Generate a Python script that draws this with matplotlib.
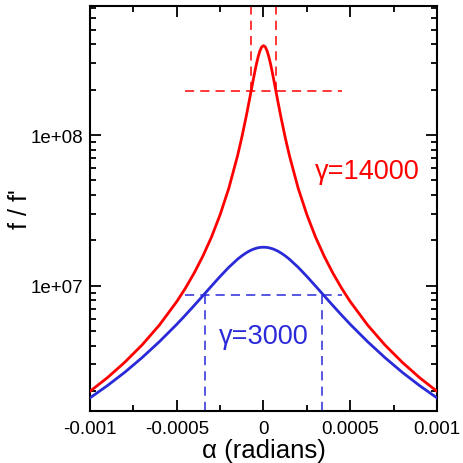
import matplotlib
matplotlib.use('Agg')
import math
import matplotlib.pyplot as plt
from matplotlib.ticker import LogLocator, NullFormatter, FixedLocator, FixedFormatter, MultipleLocator

plt.rcParams['font.family'] = ['Liberation Sans', 'DejaVu Sans']

# angle (radians), positive half; curves are symmetric about 0
alpha_half = [0, 1e-5, 2e-5, 3e-5, 4e-5, 5e-5, 6e-5, 8e-5, 1e-4, 1.25e-4, 1.5e-4,
              2e-4, 2.5e-4, 3e-4, 3.5e-4, 4e-4, 4.5e-4, 5e-4, 6e-4, 7e-4, 8e-4, 9e-4, 1e-3]
# f / f'
ratio_14000 = [3.92e8, 3.845e8, 3.635e8, 3.332e8, 2.984e8, 2.631e8, 2.298e8, 1.739e8, 1.324e8,
               9.65e7, 7.25e7, 4.43e7, 2.96e7, 2.10e7, 1.567e7, 1.211e7, 9.63e6, 7.84e6,
               5.48e6, 4.04e6, 3.10e6, 2.45e6, 1.99e6]
ratio_3000 = [1.80e7, 1.798e7, 1.794e7, 1.786e7, 1.774e7, 1.760e7, 1.744e7, 1.702e7, 1.651e7,
              1.578e7, 1.497e7, 1.324e7, 1.152e7, 9.94e6, 8.56e6, 7.38e6, 6.38e6, 5.54e6,
              4.25e6, 3.33e6, 2.66e6, 2.17e6, 1.80e6]

# half-maximum markers
half_14000 = 1.96e8
width_14000 = 7.2e-5
half_3000 = 8.7e6
width_3000 = 3.4e-4
hline_extent = 4.5e-4

RED = '#ff0000'
BLUE = '#2a2ad8'

def mirror(xs, sign=-1):
    return [sign * v for v in reversed(xs[1:])] + list(xs)

alpha = mirror(alpha_half)
y14 = mirror(ratio_14000, 1)
y3 = mirror(ratio_3000, 1)

fig = plt.figure(figsize=(4.64, 4.64), dpi=100)
ax = fig.add_axes([90 / 464, 1 - 411.7 / 464, 347 / 464, 404.4 / 464])

ax.set_yscale('log')
ax.set_xlim(-0.001, 0.001)
ax.set_ylim(1.48e6, 7.15e8)

ax.plot(alpha, y14, color=RED, lw=2.0, zorder=3)
ax.plot(alpha, y3, color=BLUE, lw=2.0, zorder=3)

dash = dict(lw=1.1, linestyle=(0, (6, 4)))
top = ax.get_ylim()[1]
bottom = ax.get_ylim()[0]
ax.plot([-hline_extent, hline_extent], [half_14000, half_14000], color=RED, **dash)
ax.plot([-width_14000, -width_14000], [half_14000, top], color=RED, **dash)
ax.plot([width_14000, width_14000], [half_14000, top], color=RED, **dash)
ax.plot([-hline_extent, hline_extent], [half_3000, half_3000], color=BLUE, **dash)
ax.plot([-width_3000, -width_3000], [bottom, half_3000], color=BLUE, **dash)
ax.plot([width_3000, width_3000], [bottom, half_3000], color=BLUE, **dash)

ax.text(2.97e-4, 5.77e7, 'γ=14000', color=RED, fontsize=19.5, ha='left', va='center')
ax.text(0, 4.64e6, 'γ=3000', color=BLUE, fontsize=19.5, ha='center', va='center')

# ticks
ax.xaxis.set_major_locator(FixedLocator([-0.001, -0.0005, 0, 0.0005, 0.001]))
ax.xaxis.set_major_formatter(FixedFormatter(['-0.001', '-0.0005', '0', '0.0005', '0.001']))
ax.xaxis.set_minor_locator(MultipleLocator(0.00025))
ax.yaxis.set_major_locator(LogLocator(base=10, numticks=10))
ax.yaxis.set_major_formatter(plt.FuncFormatter(lambda v, p: '1e+%02d' % round(math.log10(v))))
ax.yaxis.set_minor_locator(LogLocator(base=10, subs=range(2, 10), numticks=20))
ax.yaxis.set_minor_formatter(NullFormatter())

ax.tick_params(which='both', direction='in', top=True, right=True, width=1.3, labelsize=13.5)
ax.tick_params(which='major', length=8, pad=5)
ax.tick_params(axis='x', which='major', pad=6.5)
ax.tick_params(which='minor', length=4.5)
for s in ax.spines.values():
    s.set_linewidth(1.5)

ax.set_xlabel('α (radians)', fontsize=18.5, labelpad=1)
ax.set_ylabel("f / f'", fontsize=18)
ax.yaxis.set_label_coords(-58 / 347, 0.5)

fig.savefig('out.png', dpi=100)
